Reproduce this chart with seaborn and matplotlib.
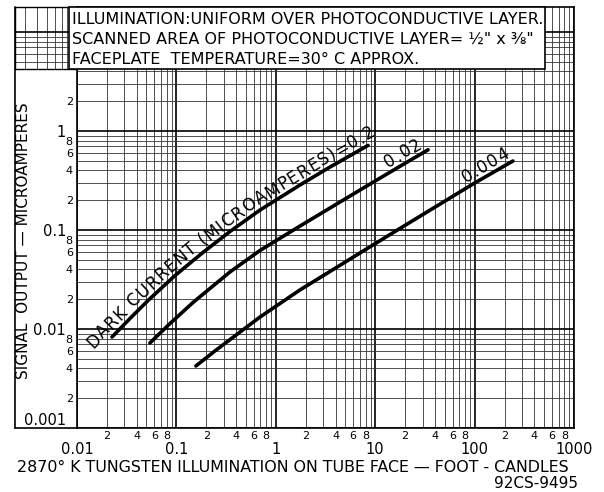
import numpy as np
import matplotlib
matplotlib.use("Agg")
import matplotlib.pyplot as plt
import matplotlib.ticker as mticker
from matplotlib.patches import Rectangle
from matplotlib.lines import Line2D
from matplotlib.transforms import IdentityTransform
import pandas as pd
import seaborn as sns

# values: illumination (foot-candles) vs signal (microamperes)
dark_current_labels = ["0.2", "0.02", "0.004"]
fc_02 = [0.0225, 0.0341, 0.0518, 0.0968, 0.185, 0.346, 0.693, 1.75, 3.51, 7.03, 8.47]
sig_02 = [0.0083, 0.01276, 0.01941, 0.03467, 0.0593, 0.0966, 0.159, 0.2847, 0.4325, 0.643, 0.715]
fc_002 = [0.0542, 0.0863, 0.147, 0.346, 0.693, 1.75, 8.07, 17.7, 34.0]
sig_002 = [0.00723, 0.01136, 0.01854, 0.0377, 0.0621, 0.1096, 0.2753, 0.4393, 0.6457]
fc_0004 = [0.157, 0.244, 0.693, 1.75, 7.03, 17.7, 96.4, 243]
sig_0004 = [0.00423, 0.0060, 0.01321, 0.0248, 0.0586, 0.1035, 0.2917, 0.4977]

note_lines = ["ILLUMINATION:UNIFORM OVER PHOTOCONDUCTIVE LAYER.",
              "SCANNED AREA OF PHOTOCONDUCTIVE LAYER= ½\" x ⅜\"",
              "FACEPLATE  TEMPERATURE=30° C APPROX."]

sns.set_style("white")
plt.rcParams['font.family'] = ['DejaVu Sans']
plt.rcParams['text.color'] = 'black'
plt.rcParams['xtick.color'] = 'black'
plt.rcParams['ytick.color'] = 'black'
plt.rcParams['axes.labelcolor'] = 'black'

W, H = 604, 492
fig = plt.figure(figsize=(W / 100, H / 100), dpi=100)


def px_rect(l, t, r, b):
    return [l / W, 1 - b / H, (r - l) / W, (b - t) / H]


def graph_paper(a):
    a.set_xscale('log')
    a.set_yscale('log')
    for axis in (a.xaxis, a.yaxis):
        axis.set_major_locator(mticker.LogLocator(base=10, numticks=20))
        axis.set_minor_locator(mticker.LogLocator(base=10, subs=np.arange(2, 10), numticks=200))
    a.grid(which='major', color='black', lw=1.2)
    a.grid(which='minor', color='#333333', lw=0.6)
    a.set_axisbelow(True)


ytop = 10 ** (-3 + 421 / 99)

ax = fig.add_axes(px_rect(77, 7, 574, 428))
graph_paper(ax)
ax.set_xlim(0.01, 1000)
ax.set_ylim(0.001, ytop)

curves = [(fc_02, sig_02), (fc_002, sig_002), (fc_0004, sig_0004)]
for (fx, fy), lab in zip(curves, dark_current_labels):
    df = pd.DataFrame({'fc': fx, 'signal': fy})
    sns.lineplot(data=df, x='fc', y='signal', ax=ax, color='black', lw=2.6,
                 sort=False, estimator=None)
ax.set_xlabel('')
ax.set_ylabel('')


def minor_fmt(v, pos):
    e = np.floor(np.log10(v) + 1e-9)
    d = int(round(v / 10 ** e))
    if d in (2, 4, 6, 8) and (v < 1 or (d == 2 and v < 10)):
        return str(d)
    return ''


def xminor(v, pos):
    e = np.floor(np.log10(v) + 1e-9)
    d = int(round(v / 10 ** e))
    return str(d) if d in (2, 4, 6, 8) else ''


ax.xaxis.set_major_formatter(mticker.FuncFormatter(lambda v, p: f'{v:g}'))
ax.xaxis.set_minor_formatter(mticker.FuncFormatter(xminor))
ax.yaxis.set_major_formatter(mticker.FuncFormatter(lambda v, p: f'{v:g}' if v <= 1 else ''))
ax.yaxis.set_minor_formatter(mticker.FuncFormatter(minor_fmt))
ax.tick_params(axis='x', which='major', length=5, width=1.2, pad=5, labelsize=10.5)
ax.tick_params(axis='x', which='minor', length=0, pad=2, labelsize=8)
ax.tick_params(axis='y', which='major', length=6, width=1.2, pad=2, labelsize=10.5)
ax.tick_params(axis='y', which='minor', length=0, pad=3, labelsize=8)
for lbl in ax.get_yticklabels():
    if lbl.get_text() == '0.001':
        lbl.set_va('bottom')
for sp in ax.spines.values():
    sp.set_color('black')
    sp.set_linewidth(1.2)

# corner of the graph paper above the y labels
ax2 = fig.add_axes(px_rect(15, 7, 77, 69))
graph_paper(ax2)
ax2.set_xlim(10 ** (-2 - 62 / 99.4), 0.01)
ax2.set_ylim(10 ** (-3 + (428 - 69) / 99), ytop)
ax2.tick_params(which='both', length=0, labelleft=False, labelbottom=False)
for sp in ax2.spines.values():
    sp.set_color('black')
    sp.set_linewidth(1.0)

# outer frame pieces
fig.add_artist(Line2D([15 / W, 15 / W], [1 - 428 / H, 1 - 7 / H], color='black', lw=1.2))
fig.add_artist(Line2D([15 / W, 77 / W], [1 - 428 / H, 1 - 428 / H], color='black', lw=1.2))

# note box
fig.add_artist(Rectangle((69 / W, 1 - 69 / H), (545 - 69) / W, 62 / H,
                         transform=fig.transFigure, fc='white', ec='black', lw=1.2, zorder=5))
for i, line in enumerate(note_lines):
    fig.text(72 / W, 1 - (19 + 20 * i) / H, line, ha='left', va='center',
             fontsize=11.5, zorder=6)

renderer = fig.canvas.get_renderer()


def text_width(t, size):
    tt = fig.text(0, 0, t + '|', fontsize=size)
    w = tt.get_window_extent(renderer).width
    tt.remove()
    return w


def text_along(xs, ys, s, start, offset, size, spacing=0.0, from_end=False):
    pts = ax.transData.transform(np.column_stack([xs, ys]))
    seg = np.diff(pts, axis=0)
    seglen = np.hypot(seg[:, 0], seg[:, 1])
    cum = np.concatenate([[0], np.cumsum(seglen)])
    bar = text_width('', size)
    widths = [text_width(ch, size) - bar + spacing for ch in s]
    pos = cum[-1] - sum(widths) - start if from_end else start
    for ch, w in zip(s, widths):
        mid = pos + w / 2
        i = int(np.clip(np.searchsorted(cum, mid) - 1, 0, len(seg) - 1))
        d = seg[i] / seglen[i]
        p = pts[i] + d * (mid - cum[i])
        q = p + np.array([-d[1], d[0]]) * offset
        ang = np.degrees(np.arctan2(d[1], d[0]))
        fig.text(q[0], q[1], ch, transform=IdentityTransform(), rotation=ang,
                 rotation_mode='anchor', ha='center', va='baseline', fontsize=size,
                 zorder=4)
        pos += w


text_along(fc_02, sig_02, "DARK CURRENT (MICROAMPERES)=" + dark_current_labels[0],
           -22, 5, 12, spacing=1.0)
text_along(fc_002, sig_002, dark_current_labels[1], 3, 5, 12, spacing=1.0, from_end=True)
text_along(fc_0004, sig_0004, dark_current_labels[2], 0, 5, 12, spacing=1.0, from_end=True)

fig.text(24 / W, 1 - 241 / H, "SIGNAL  OUTPUT — MICROAMPERES", rotation=90,
         ha='center', va='center', fontsize=11)
fig.text(293 / W, 1 - 467 / H, "2870° K TUNGSTEN ILLUMINATION ON TUBE FACE — FOOT - CANDLES",
         ha='center', va='center', fontsize=11.4)
fig.text(578 / W, 1 - 484 / H, "92CS-9495", ha='right', va='center', fontsize=11)

fig.savefig("out.png", dpi=100)
